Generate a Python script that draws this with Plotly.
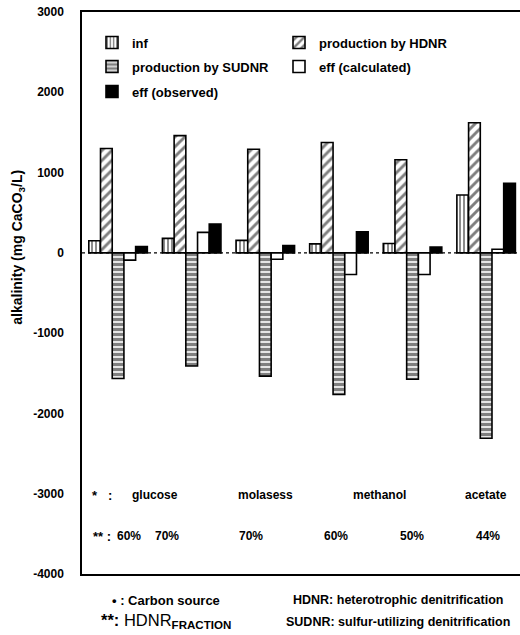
import plotly.graph_objects as go

# Alkalinity balance per run (mg CaCO3/L)
runs = [0, 1, 2, 3, 4, 5]
carbon_sources = ["glucose", "molasess", "methanol", "acetate"]
carbon_source_pos = [0.5, 2.0, 3.55, 5.0]
hdnr_fraction = ["60%", "70%", "70%", "60%", "50%", "44%"]
hdnr_fraction_pos = [0.15, 0.67, 1.81, 2.96, 3.99, 5.03]

alk_inf = [150, 180, 155, 112, 117, 720]
alk_hdnr = [1300, 1460, 1290, 1375, 1160, 1620]
alk_sudnr = [-1565, -1410, -1535, -1765, -1575, -2310]
alk_eff_calc = [-90, 255, -80, -270, -270, 45]
alk_eff_obs = [80, 360, 92, 262, 71, 865]

y_ticks = [3000, 2000, 1000, 0, -1000, -2000, -3000, -4000]

FONT = "Liberation Sans, Arial, sans-serif"
BOLD = dict(family=FONT, color="black", weight="bold")
line = dict(color="black", width=1.6)

# plot-area geometry in pixels, used to place free text
plot_top, plot_bot, plot_left, plot_w = 12.5, 574.0, 82.0, 438.0


def px_x(px):
    return (px - plot_left) / plot_w


def px_y(py):
    return (plot_bot - py) / (plot_bot - plot_top)


fig = go.Figure()
fig.add_bar(x=runs, y=alk_inf, name="inf", legend="legend",
            marker=dict(color="white", line=line,
                        pattern=dict(shape="|", fgcolor="black", bgcolor="white",
                                     size=4, solidity=0.45)))
fig.add_bar(x=runs, y=alk_hdnr, name="production by HDNR", legend="legend2",
            marker=dict(color="white", line=line,
                        pattern=dict(shape="/", fgcolor="black", bgcolor="white",
                                     size=7, solidity=0.42)))
fig.add_bar(x=runs, y=alk_sudnr, name="production by SUDNR", legend="legend3",
            marker=dict(color="white", line=line,
                        pattern=dict(shape="-", fgcolor="black", bgcolor="white",
                                     size=5, solidity=0.68)))
fig.add_bar(x=runs, y=alk_eff_calc, name="eff (calculated)", legend="legend4",
            marker=dict(color="white", line=line))
fig.add_bar(x=runs, y=alk_eff_obs, name="eff (observed)", legend="legend5",
            marker=dict(color="black", line=line))

# dotted zero line
fig.add_shape(type="line", xref="paper", yref="y", x0=0, x1=1, y0=0, y1=0,
              line=dict(color="black", width=1.2, dash="dot"), layer="below")

ann = []
ann.append(dict(x=-0.22, y=-3020, xref="x", yref="y", text="*   :", showarrow=False,
                font=dict(size=13, **BOLD), xanchor="center"))
for name, pos in zip(carbon_sources, carbon_source_pos):
    ann.append(dict(x=pos, y=-3020, xref="x", yref="y", text=name,
                    showarrow=False, font=dict(size=12, **BOLD)))
ann.append(dict(x=-0.22, y=-3530, xref="x", yref="y", text="** :", showarrow=False,
                font=dict(size=13, **BOLD), xanchor="center"))
for name, pos in zip(hdnr_fraction, hdnr_fraction_pos):
    ann.append(dict(x=pos, y=-3530, xref="x", yref="y", text=name,
                    showarrow=False, font=dict(size=12, **BOLD)))

# notes under the plot
notes = [
    (166, 600, "• : Carbon source", 13, "bold"),
    (166, 621, "<b>**:</b> HDNR<sub><b>FRACTION</b></sub>", 16.5, "normal"),
    (398, 600, "HDNR: heterotrophic denitrification", 12.5, "bold"),
    (398, 622, "SUDNR: sulfur-utilizing denitrification", 12.5, "bold"),
]
for px, py, txt, size, weight in notes:
    ann.append(dict(x=px_x(px), y=px_y(py), xref="paper", yref="paper", text=txt,
                    showarrow=False, xanchor="center", yanchor="middle",
                    font=dict(size=size, family=FONT, color="black", weight=weight)))

# y-axis title
ann.append(dict(x=px_x(18), y=px_y(248), xref="paper", yref="paper",
                text="alkalinity (mg CaCO<sub>3</sub>/L)", textangle=-90,
                showarrow=False, xanchor="center", yanchor="middle",
                font=dict(size=14, **BOLD)))


def legend_box(px, py):
    return dict(x=px_x(px), y=px_y(py), xanchor="left", yanchor="middle",
                font=dict(size=13, **BOLD), bgcolor="rgba(0,0,0,0)",
                itemwidth=30, borderwidth=0)


fig.update_layout(
    width=520, height=635,
    margin=dict(l=82, r=0, t=12, b=61),
    paper_bgcolor="white", plot_bgcolor="white",
    barmode="group", bargap=0.205, bargroupgap=0,
    font=dict(family=FONT, color="black", size=12),
    showlegend=True,
    legend=legend_box(92, 43),
    legend2=legend_box(279, 43),
    legend3=legend_box(92, 67),
    legend4=legend_box(279, 67),
    legend5=legend_box(92, 92),
    annotations=ann,
)
fig.update_xaxes(range=[-0.49, 5.46], showticklabels=False, ticks="",
                 showgrid=False, zeroline=False, showline=True, mirror=True,
                 linecolor="black", linewidth=1.5)
fig.update_yaxes(range=[-4000, 3000], tickvals=y_ticks,
                 ticktext=[str(v) if v >= 0 else "-%d" % (-v) for v in y_ticks],
                 showgrid=False, zeroline=False, showline=True, linecolor="black",
                 linewidth=1.5, ticks="", ticklabelstandoff=14,
                 tickfont=dict(size=12, **BOLD))

fig.write_html("out.html")
